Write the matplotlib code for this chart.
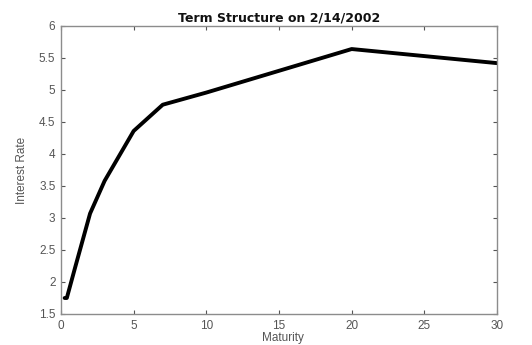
import matplotlib
matplotlib.use("Agg")
import matplotlib.pyplot as plt

maturity = [0.25, 0.4, 1, 2, 3, 5, 7, 10, 20, 30]
rate = [1.75, 1.75, 2.25, 3.07, 3.58, 4.36, 4.77, 4.96, 5.64, 5.42]
xticks = [0, 5, 10, 15, 20, 25, 30]
yticks = [1.5, 2, 2.5, 3, 3.5, 4, 4.5, 5, 5.5, 6]
ytick_labels = ["1.5", "2", "2.5", "3", "3.5", "4", "4.5", "5", "5.5", "6"]

plt.rcParams['font.family'] = ['Liberation Sans', 'DejaVu Sans']

fig = plt.figure(figsize=(5.32, 3.45), dpi=100)
W, H = 532, 345
L, R, T, B = 61, 497, 26, 314
ax = fig.add_axes([L / W, 1 - B / H, (R - L) / W, (B - T) / H])

ax.plot(maturity, rate, color='black', linewidth=2.8, solid_joinstyle='round',
        solid_capstyle='round')
ax.set_xlim(0, 30)
ax.set_ylim(1.5, 6)
ax.set_xticks(xticks)
ax.set_yticks(yticks)
ax.set_yticklabels(ytick_labels)

grey = '#8c8c8c'
for s in ax.spines.values():
    s.set_color(grey)
    s.set_linewidth(1.0)
ax.tick_params(direction='in', length=3, width=0.8, color='#555555',
               labelcolor='#555555', labelsize=8.5, top=True, right=True, pad=4)

ax.set_title('Term Structure on 2/14/2002', fontsize=9, fontweight='bold',
             family=['DejaVu Sans'], color='#111111', pad=3)
fig.text(22 / W, 1 - 170 / H, 'Interest Rate', rotation=90, ha='center', va='center',
         fontsize=8.5, color='#555555', fontstretch='condensed')
fig.text(283 / W, 1 - 338 / H, 'Maturity', ha='center', va='center',
         fontsize=8.5, color='#555555')

fig.savefig('out.png', dpi=100)
